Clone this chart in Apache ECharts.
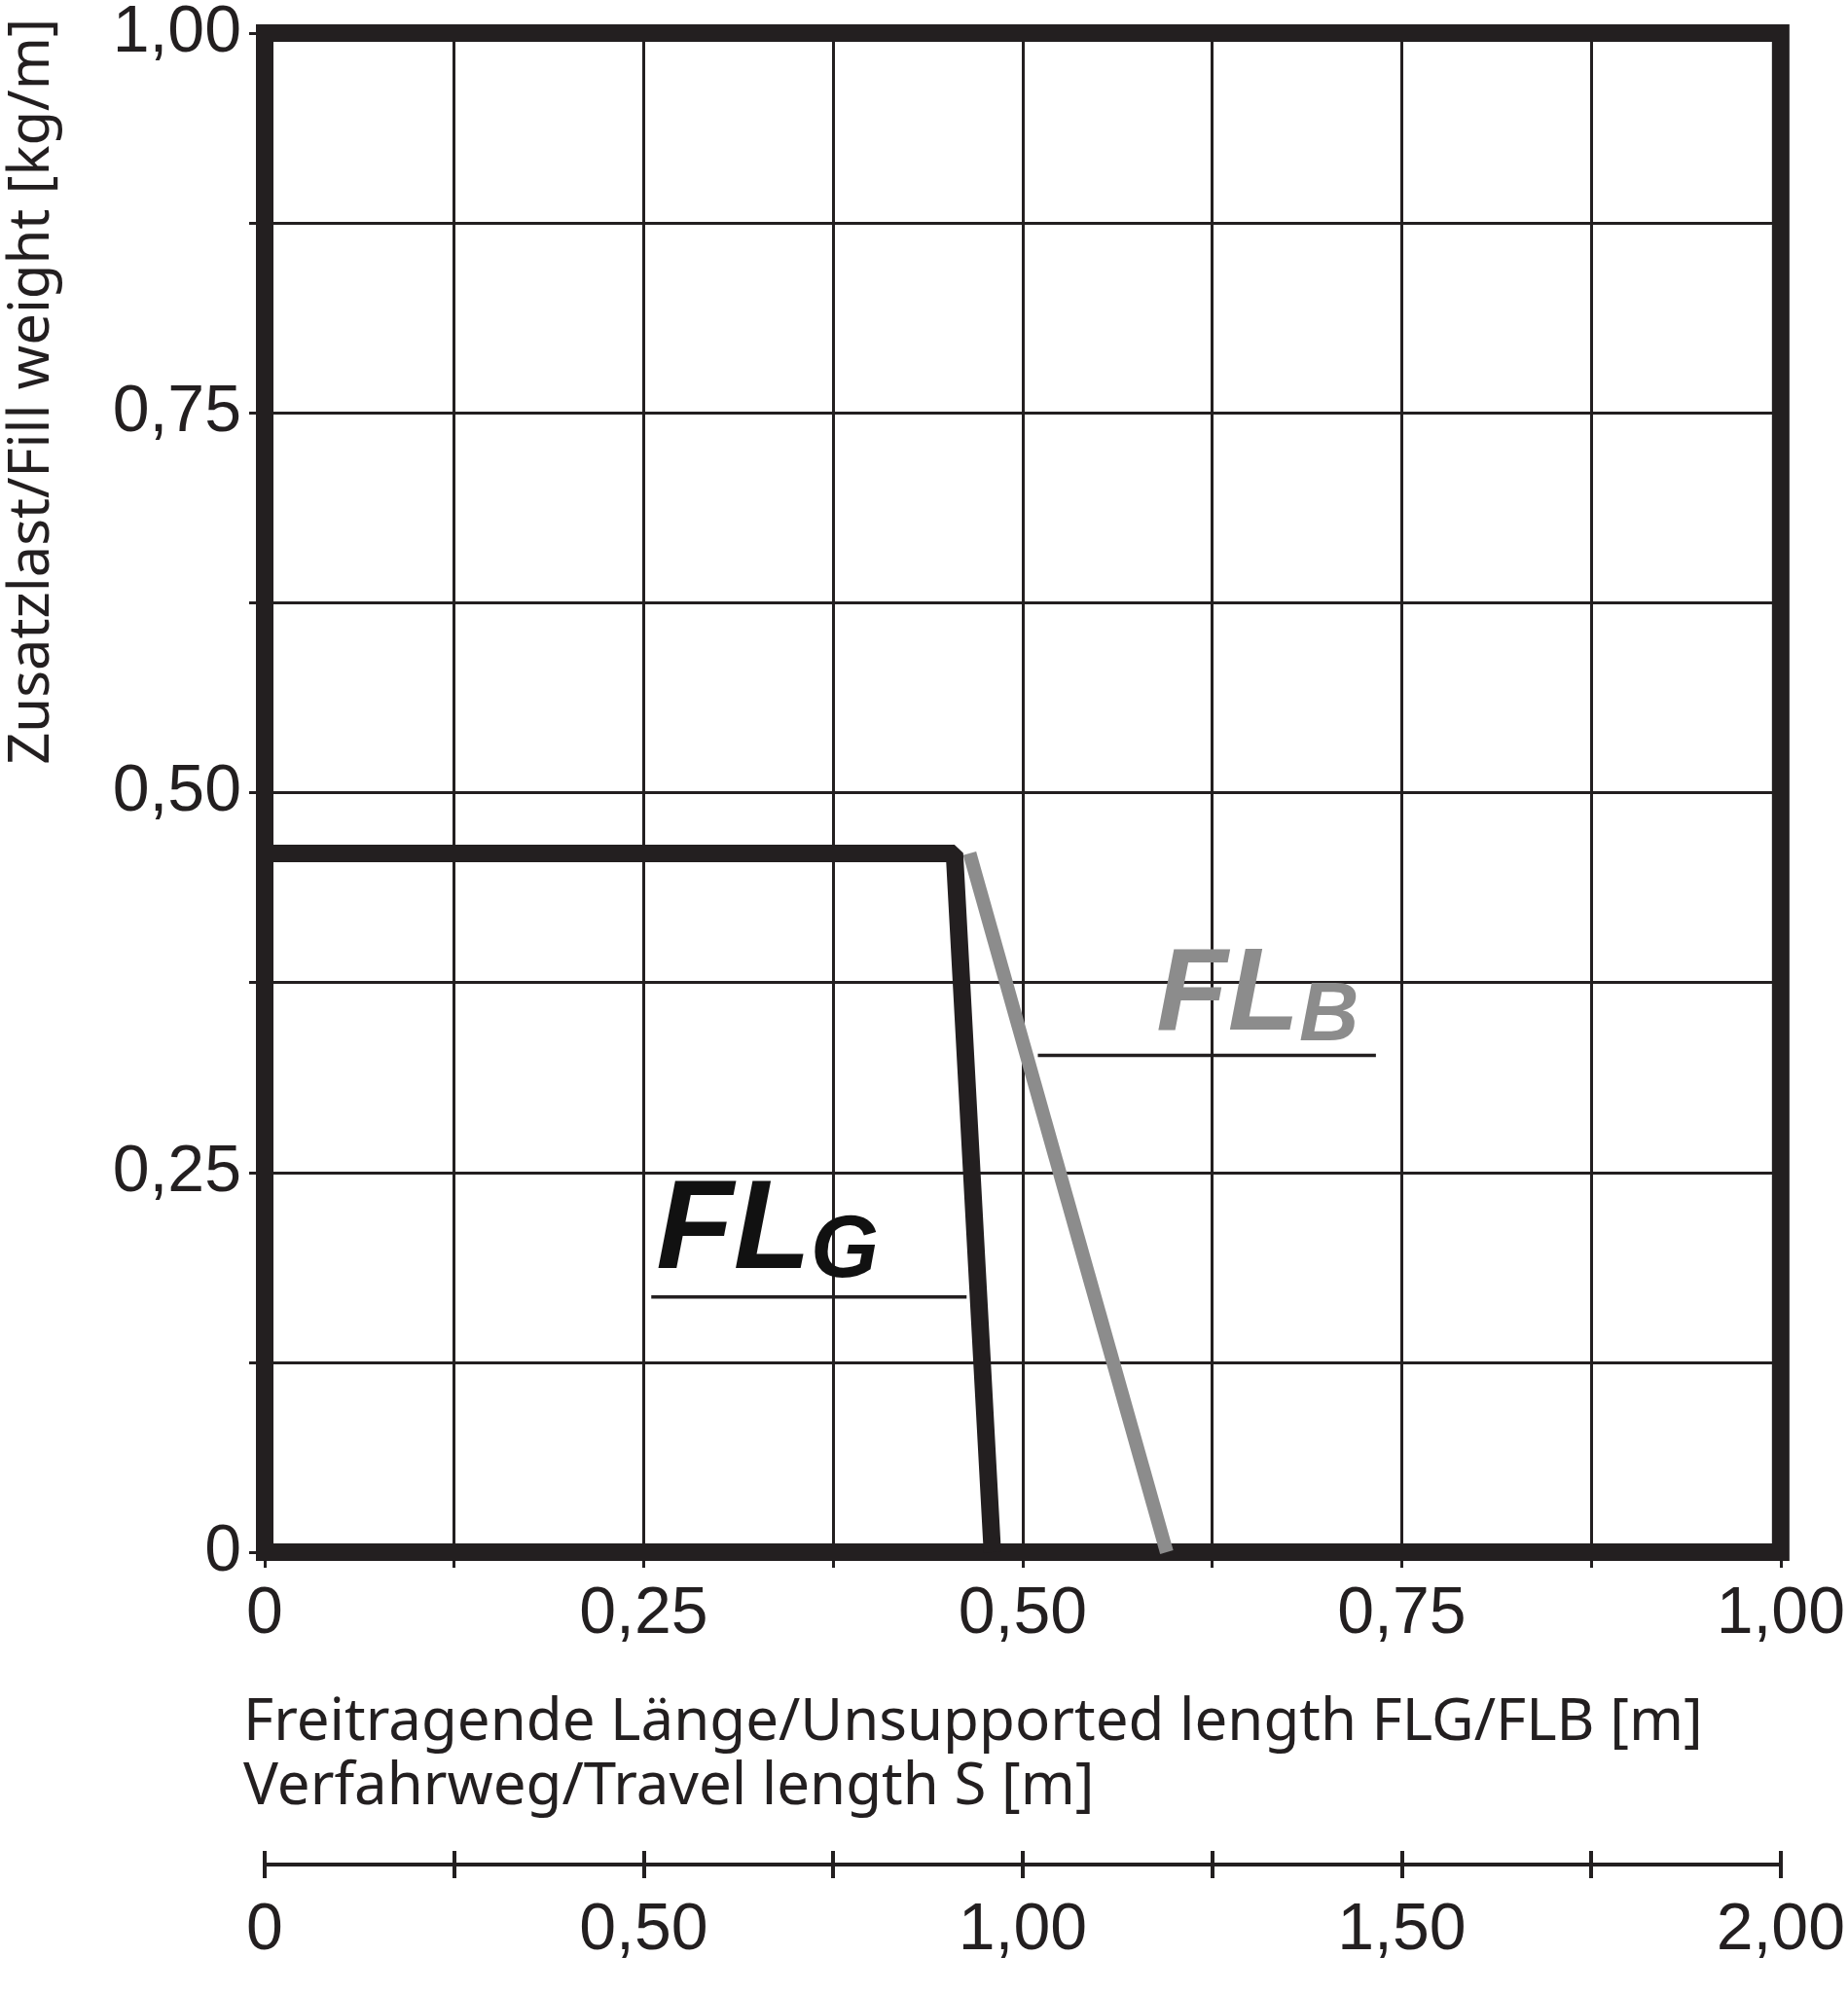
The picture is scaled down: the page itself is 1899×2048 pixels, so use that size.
<!DOCTYPE html>
<html><head><meta charset="utf-8">
<script src="https://cdn.jsdelivr.net/npm/echarts@6/dist/echarts.min.js"></script>
<style>html,body{margin:0;background:#fff}#c{width:1899px;height:2048px}</style>
</head><body><div id="c"></div>
<script>
const flgCurve = [[0, 0.46], [0.455, 0.46], [0.48, 0]];
const flbCurve = [[0.465, 0.46], [0.595, 0]];
const flgUnderline = [[0.255, 0.168], [0.463, 0.168]];
const flbUnderline = [[0.51, 0.327], [0.733, 0.327]];
const flgLabelPos = [0.255, 0.21];
const flbLabelPos = [0.585, 0.365];
const dark = '#231f20', grey = '#8c8c8c';
const fmt = (step) => v => {
  const r = Math.round(v * 1000) / 1000;
  if (Math.abs(r / step - Math.round(r / step)) > 1e-6) return '';
  return r === 0 ? '0' : r.toFixed(2).replace('.', ',');
};
const chart = echarts.init(document.getElementById('c'));
chart.setOption({
  animation: false,
  grid: [
    { left: 272, right: 62, top: 26, bottom: 453, show: true, borderColor: dark, borderWidth: 18 },
    { left: 272, right: 62, top: 1916, height: 0 }
  ],
  xAxis: [
    { gridIndex: 0, min: 0, max: 1, interval: 0.125,
      axisLine: { show: false }, axisTick: { show: true, length: 16, lineStyle: { color: dark, width: 3 } },
      splitLine: { lineStyle: { color: dark, width: 3 } },
      axisLabel: { formatter: fmt(0.25), fontSize: 68, color: dark, margin: 30, fontFamily: 'Liberation Sans Narrow, Liberation Sans', showMaxLabel: true } },
    { gridIndex: 1, min: 0, max: 2, interval: 0.25, position: 'bottom',
      axisLine: { lineStyle: { color: dark, width: 4 } },
      axisTick: { length: 14, lineStyle: { color: dark, width: 4 } },
      splitLine: { show: false },
      axisLabel: { formatter: fmt(0.5), fontSize: 68, color: dark, margin: 34, fontFamily: 'Liberation Sans Narrow, Liberation Sans' } },
    { gridIndex: 1, min: 0, max: 2, interval: 0.25, position: 'bottom',
      axisLine: { show: false },
      axisTick: { inside: true, length: 14, lineStyle: { color: dark, width: 4 } },
      splitLine: { show: false }, axisLabel: { show: false } }
  ],
  yAxis: [
    { gridIndex: 0, min: 0, max: 1, interval: 0.125,
      axisLine: { show: false }, axisTick: { show: true, length: 16, lineStyle: { color: dark, width: 3 } },
      splitLine: { lineStyle: { color: dark, width: 3 } },
      axisLabel: { formatter: fmt(0.25), fontSize: 68, color: dark, margin: 24, fontFamily: 'Liberation Sans Narrow, Liberation Sans' },
      name: 'Zusatzlast/Fill weight [kg/m]', nameLocation: 'end', nameRotate: 90,
      nameTextStyle: { fontSize: 58, color: dark, align: 'right', verticalAlign: 'bottom', padding: [0, 0, 210, 0], fontFamily: 'Noto Sans' } },
    { gridIndex: 1, min: 0, max: 1, show: false }
  ],
  graphic: [
    { type: 'text', left: 250, top: 1738, style: { text: 'Freitragende Länge/Unsupported length FLG/FLB [m]\nVerfahrweg/Travel length S [m]', fontSize: 60, lineHeight: 66, fill: dark, fontFamily: 'Noto Sans' } }
  ],
  series: [
    { type: 'line', data: flbCurve, symbol: 'none', lineStyle: { color: grey, width: 14 }, z: 3 },
    { type: 'line', data: flgCurve, symbol: 'none', lineStyle: { color: dark, width: 18 }, z: 4 },
    { type: 'line', data: flgUnderline, symbol: 'none', lineStyle: { color: dark, width: 3.5 } },
    { type: 'line', data: flbUnderline, symbol: 'none', lineStyle: { color: dark, width: 3.5 } },
    { type: 'scatter', symbolSize: 0, data: [flgLabelPos], z: 10,
      label: { show: true, position: 'right', formatter: '{a|FL}{b|G}', color: '#000', opacity: 1,
        rich: { a: { fontSize: 130, fontWeight: 'bold', fontStyle: 'italic', color: '#111', fontFamily: 'Liberation Sans' },
                b: { fontSize: 90, fontWeight: 'bold', fontStyle: 'italic', color: '#111', verticalAlign: 'bottom', padding: [40, 0, 0, 0], fontFamily: 'Liberation Sans' } } } },
    { type: 'scatter', symbolSize: 0, data: [flbLabelPos], z: 10,
      label: { show: true, position: 'right', formatter: '{a|FL}{b|B}', opacity: 1,
        rich: { a: { fontSize: 120, fontStyle: 'italic', fontWeight: 'bold', color: grey, fontFamily: 'Liberation Sans' },
                b: { fontSize: 85, fontStyle: 'italic', fontWeight: 'bold', color: grey, verticalAlign: 'bottom', padding: [40, 0, 0, 0], fontFamily: 'Liberation Sans' } } } }
  ]
});
</script></body></html>
